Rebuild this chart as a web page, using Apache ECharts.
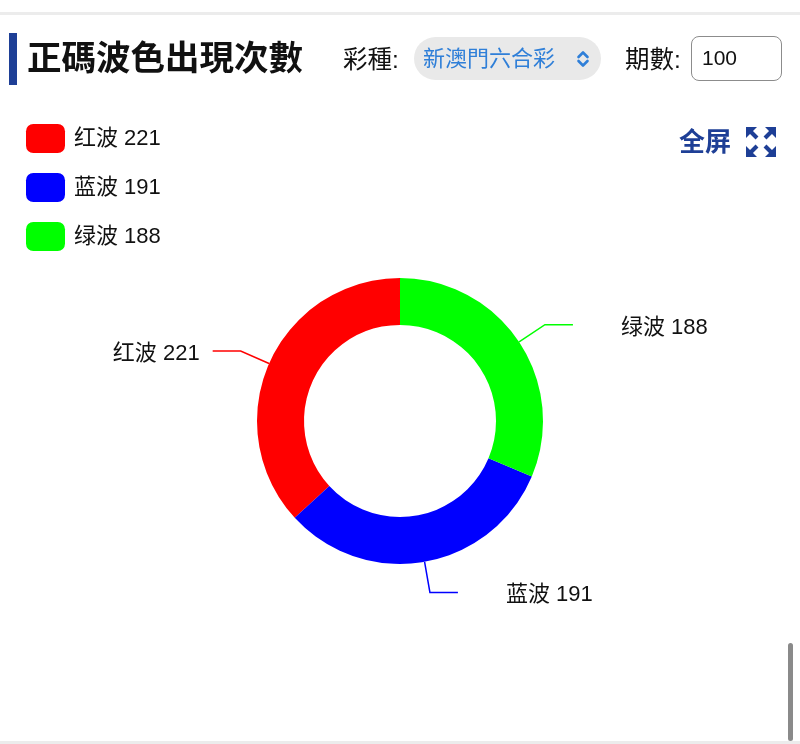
<!DOCTYPE html>
<html><head><meta charset="utf-8">
<script src="https://cdn.jsdelivr.net/npm/echarts@6/dist/echarts.min.js"></script>
<style>
html,body{margin:0;padding:0;width:800px;height:744px;overflow:hidden;background:#fff;font-family:"Liberation Sans","Noto Sans CJK SC",sans-serif;}
#chart{position:absolute;left:0;top:0;width:800px;height:744px;}
.abs{position:absolute;white-space:nowrap;}
</style></head><body>
<div id="chart"></div>
<div class="abs" style="left:0;top:12px;width:800px;height:3px;background:#ececec"></div>
<div class="abs" style="left:9px;top:33px;width:8px;height:52px;background:#1e3f96"></div>
<div class="abs" style="left:27px;top:35px;font-size:34.5px;font-weight:bold;line-height:46px;color:#111">正碼波色出現次數</div>
<div class="abs" style="left:343px;top:44px;font-size:24.5px;line-height:32px;color:#111">彩種:</div>
<div class="abs" style="left:414px;top:37px;width:187px;height:43px;border-radius:22px;background:#e9e9e9;">
  <div class="abs" style="left:9px;top:0;font-size:22px;line-height:43px;color:#2f7fd8">新澳門六合彩</div>
  <svg class="abs" style="left:162px;top:12px" width="14" height="20" viewBox="0 0 14 20">
    <polyline points="2.5,8 7,3.5 11.5,8" fill="none" stroke="#2f7fd8" stroke-width="2.6" stroke-linecap="round" stroke-linejoin="round"/>
    <polyline points="2.5,12 7,16.5 11.5,12" fill="none" stroke="#2f7fd8" stroke-width="2.6" stroke-linecap="round" stroke-linejoin="round"/>
  </svg>
</div>
<div class="abs" style="left:625px;top:44px;font-size:24.5px;line-height:32px;color:#111">期數:</div>
<div class="abs" style="left:691px;top:36px;width:91px;height:45px;box-sizing:border-box;border:1.5px solid #8c8c8c;border-radius:8px;padding-left:10px;font-size:21px;line-height:42px;color:#111">100</div>
<div class="abs" style="left:679px;top:124px;font-size:26px;line-height:36px;font-weight:bold;color:#1e3f96">全屏</div>
<svg class="abs" style="left:746px;top:127px" width="30" height="30" viewBox="0 0 30 30">
  <g fill="#1e3f96" stroke="#1e3f96">
    <polygon points="0,0 11,0 0,11" stroke="none"/>
    <line x1="3" y1="3" x2="11" y2="11" stroke-width="4"/>
    <polygon points="30,0 19,0 30,11" stroke="none"/>
    <line x1="27" y1="3" x2="19" y2="11" stroke-width="4"/>
    <polygon points="0,30 11,30 0,19" stroke="none"/>
    <line x1="3" y1="27" x2="11" y2="19" stroke-width="4"/>
    <polygon points="30,30 19,30 30,19" stroke="none"/>
    <line x1="27" y1="27" x2="19" y2="19" stroke-width="4"/>
  </g>
</svg>
<div class="abs" style="left:788px;top:643px;width:5px;height:98px;border-radius:3px;background:#8a8a8a"></div>
<div class="abs" style="left:0;top:741px;width:800px;height:3px;background:#ececec"></div>
<script>
const categories = ['红波', '蓝波', '绿波'];
const counts = [221, 191, 188];
const palette = ['#ff0000', '#0000ff', '#00ff00'];

const FONT = '"Liberation Sans","Noto Sans CJK SC",sans-serif';
const chart = echarts.init(document.getElementById('chart'));
const pieData = categories.map((c, i) => ({ name: c, value: counts[i] }));
chart.setOption({
  animation: false,
  color: palette,
  textStyle: { fontFamily: FONT },
  legend: {
    orient: 'vertical',
    left: 26,
    top: 124,
    padding: 0,
    itemWidth: 39,
    itemHeight: 29,
    itemGap: 20,
    icon: 'roundRect',
    data: categories,
    formatter: function (name) {
      const i = categories.indexOf(name);
      return name + ' ' + counts[i];
    },
    textStyle: { fontSize: 22, color: '#111', fontFamily: FONT, padding: [0, 0, 0, 4] }
  },
  series: [{
    type: 'pie',
    radius: [96, 143],
    center: [400, 421],
    startAngle: 90,
    clockwise: false,
    data: pieData,
    label: {
      formatter: '{t|{b} {c}}',
      fontSize: 22,
      color: '#111',
      fontFamily: FONT,
      padding: [0, 8, 0, 43],
      rich: {
        t: { fontSize: 22, color: '#111', fontFamily: FONT, padding: [6, 0, 0, 0] }
      }
    },
    labelLine: { length: 31, length2: 28, lineStyle: { width: 1.5 } },
    emphasis: { disabled: true }
  }]
});
</script>
</body></html>
